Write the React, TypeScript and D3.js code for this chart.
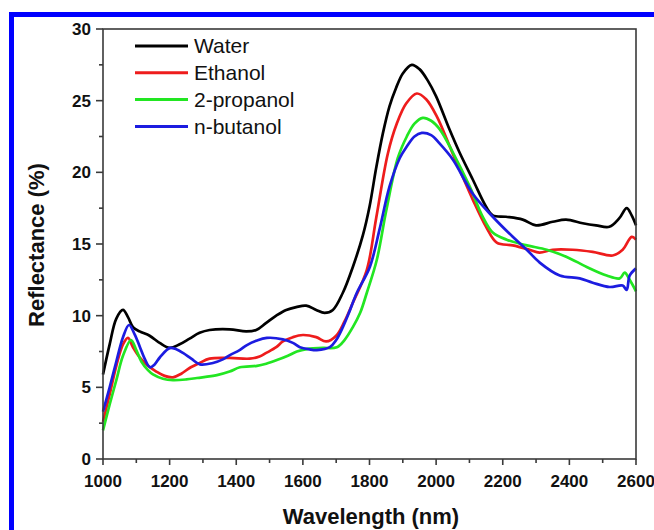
import React from "react";
import * as d3 from "d3";

const water: [number, number][] = [[1000,5.9],[1020,8.0],[1040,9.8],[1060,10.4],[1075,9.9],[1090,9.2],[1110,8.9],[1140,8.6],[1170,8.1],[1200,7.75],[1230,8.0],[1260,8.4],[1290,8.8],[1320,9.0],[1380,9.05],[1430,8.9],[1460,9.0],[1490,9.5],[1520,10.0],[1550,10.4],[1580,10.6],[1610,10.7],[1640,10.4],[1665,10.2],[1690,10.4],[1720,11.6],[1750,13.4],[1780,15.6],[1800,17.6],[1820,20.3],[1840,22.7],[1860,24.6],[1880,25.9],[1900,26.9],[1927,27.5],[1950,27.2],[1975,26.4],[2000,25.3],[2040,23.0],[2070,21.4],[2110,19.5],[2150,17.6],[2170,17.0],[2210,16.9],[2260,16.7],[2300,16.3],[2350,16.55],[2390,16.7],[2440,16.45],[2480,16.3],[2520,16.2],[2550,16.8],[2572,17.5],[2587,17.0],[2600,16.3]];
const ethanol: [number, number][] = [[1000,2.6],[1020,4.5],[1040,6.5],[1060,8.0],[1075,8.45],[1090,7.8],[1110,7.1],[1135,6.5],[1160,6.1],[1185,5.8],[1210,5.7],[1235,5.95],[1260,6.35],[1290,6.7],[1320,7.0],[1380,7.05],[1440,7.0],[1470,7.15],[1490,7.4],[1520,7.8],[1540,8.2],[1570,8.5],[1600,8.65],[1640,8.5],[1670,8.2],[1700,8.6],[1725,9.6],[1750,10.9],[1792,13.2],[1820,16.8],[1855,21.3],[1882,23.4],[1910,24.8],[1942,25.5],[1970,25.1],[2002,23.9],[2050,21.3],[2110,18.1],[2150,16.2],[2182,15.1],[2230,14.9],[2280,14.6],[2310,14.4],[2350,14.6],[2410,14.6],[2470,14.45],[2530,14.2],[2560,14.6],[2587,15.5],[2600,15.3]];
const propanol: [number, number][] = [[1000,2.0],[1020,3.8],[1040,5.5],[1060,7.2],[1084,8.3],[1100,7.6],[1115,6.8],[1135,6.2],[1150,5.9],[1180,5.6],[1210,5.5],[1250,5.55],[1282,5.65],[1342,5.85],[1380,6.1],[1411,6.4],[1462,6.5],[1490,6.65],[1522,6.9],[1555,7.2],[1582,7.5],[1620,7.7],[1660,7.75],[1702,7.8],[1725,8.3],[1750,9.2],[1772,10.2],[1792,11.6],[1822,13.9],[1850,17.3],[1885,21.0],[1912,22.5],[1935,23.4],[1960,23.8],[1985,23.6],[2011,23.0],[2050,21.4],[2101,19.0],[2140,16.9],[2170,15.8],[2212,15.3],[2272,14.9],[2332,14.6],[2392,14.1],[2452,13.4],[2512,12.8],[2551,12.6],[2566,13.0],[2581,12.5],[2600,11.7]];
const butanol: [number, number][] = [[1000,3.3],[1020,5.0],[1040,6.8],[1060,8.5],[1078,9.35],[1095,8.7],[1111,7.8],[1125,7.0],[1141,6.4],[1155,6.6],[1171,7.1],[1201,7.75],[1220,7.65],[1240,7.4],[1265,7.0],[1291,6.6],[1330,6.7],[1360,6.95],[1381,7.25],[1410,7.6],[1432,7.95],[1460,8.25],[1492,8.45],[1540,8.35],[1570,8.1],[1591,7.8],[1620,7.65],[1642,7.6],[1681,7.8],[1700,8.3],[1720,9.2],[1740,10.3],[1762,11.6],[1801,13.4],[1830,16.0],[1860,19.0],[1891,21.0],[1912,21.8],[1935,22.5],[1957,22.75],[1985,22.6],[2011,22.0],[2050,20.9],[2110,18.5],[2170,16.9],[2230,15.5],[2272,14.6],[2311,13.7],[2371,12.8],[2431,12.6],[2470,12.3],[2521,12.0],[2560,12.1],[2572,11.8],[2581,12.8],[2600,13.3]];

const seriesNames = ["Water", "Ethanol", "2-propanol", "n-butanol"];
const seriesData = [water, ethanol, propanol, butanol];
const seriesColors = ["#000000", "#ee1c1c", "#22e622", "#1c1ce0"];
const xTicks = [1000, 1200, 1400, 1600, 1800, 2000, 2200, 2400, 2600];
const yTicks = [0, 5, 10, 15, 20, 25, 30];

export default function App() {
  const W = 654, H = 530;
  const x = d3.scaleLinear().domain([1000, 2600]).range([103, 636]);
  const y = d3.scaleLinear().domain([0, 30]).range([459, 29]);
  const line = d3.line<[number, number]>().x(d => x(d[0])).y(d => y(d[1])).curve(d3.curveCatmullRom.alpha(0.5));
  const xMinor = d3.range(1100, 2600, 200);
  const yMinor = d3.range(2.5, 30, 5);
  const axisColor = "#3a3a3a";
  const font = "'Liberation Sans', Arial, sans-serif";
  return (
    <svg width={W} height={H} style={{ position: "absolute", left: 0, top: 0, background: "#fff" }} fontFamily={font}>
      <rect x={0} y={0} width={W} height={H} fill="#fff" />
      <rect x={11.5} y={14.5} width={720} height={600} fill="none" stroke="#0000ff" strokeWidth={5} />
      {seriesData.map((s, i) => (
        <path key={i} d={line(s) || ""} fill="none" stroke={seriesColors[i]} strokeWidth={2.7} strokeLinejoin="round" />
      ))}
      <rect x={x(1000)} y={y(30)} width={x(2600) - x(1000)} height={y(0) - y(30)} fill="none" stroke={axisColor} strokeWidth={1.6} />
      {xTicks.map(t => (
        <g key={t}>
          <line x1={x(t)} x2={x(t)} y1={y(0)} y2={y(0) + 6} stroke={axisColor} strokeWidth={1.6} />
          <text x={x(t)} y={y(0) + 28} textAnchor="middle" fontSize={17} fontWeight="bold" fill="#111">{t}</text>
        </g>
      ))}
      {xMinor.map(t => (
        <line key={t} x1={x(t)} x2={x(t)} y1={y(0)} y2={y(0) + 4} stroke={axisColor} strokeWidth={1.6} />
      ))}
      {yTicks.map(t => (
        <g key={t}>
          <line x1={x(1000) - 7} x2={x(1000)} y1={y(t)} y2={y(t)} stroke={axisColor} strokeWidth={1.6} />
          <text x={x(1000) - 12} y={y(t)} dy="0.35em" textAnchor="end" fontSize={17} fontWeight="bold" fill="#111">{t}</text>
        </g>
      ))}
      {yMinor.map(t => (
        <line key={t} x1={x(1000) - 4} x2={x(1000)} y1={y(t)} y2={y(t)} stroke={axisColor} strokeWidth={1.6} />
      ))}
      <text x={371} y={524} textAnchor="middle" fontSize={22} fontWeight="bold" fill="#111">Wavelength (nm)</text>
      <text transform={`translate(44,245) rotate(-90)`} textAnchor="middle" fontSize={22} fontWeight="bold" fill="#111">Reflectance (%)</text>
      {seriesNames.map((n, i) => (
        <g key={n}>
          <line x1={135} x2={188} y1={46 + i * 26.8} y2={46 + i * 26.8} stroke={seriesColors[i]} strokeWidth={3} />
          <text x={194} y={46 + i * 26.8} dy="0.35em" fontSize={21} fill="#111">{n}</text>
        </g>
      ))}
    </svg>
  );
}
